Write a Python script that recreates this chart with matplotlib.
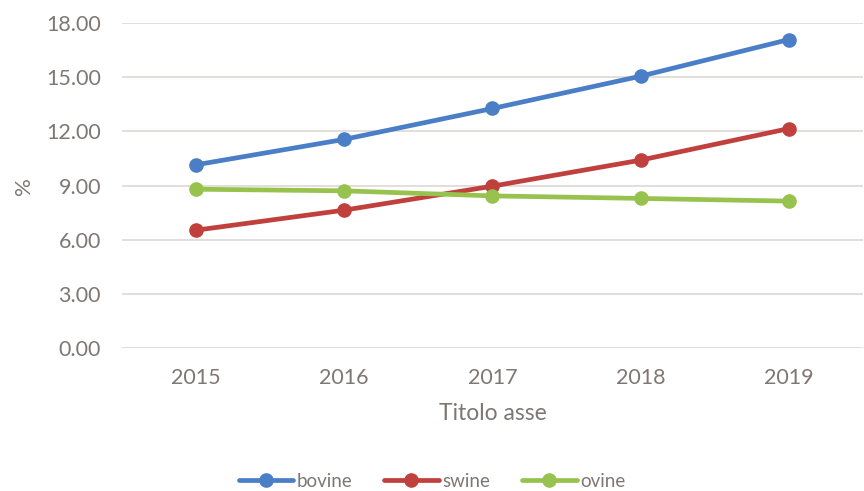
import numpy as np
import matplotlib.pyplot as plt
import matplotlib

matplotlib.rcParams['font.family'] = ['Lato', 'DejaVu Sans']
matplotlib.rcParams['font.size'] = 13

years = ["2015", "2016", "2017", "2018", "2019"]
bovine = [10.15, 11.56, 13.27, 15.06, 17.09]
swine = [6.53, 7.64, 8.97, 10.41, 12.16]
ovine = [8.80, 8.71, 8.43, 8.29, 8.14]

series = [("bovine", bovine, "#4a7ec6"),
          ("swine", swine, "#c0403d"),
          ("ovine", ovine, "#98c24e")]

text_col = "#7f7773"

fig = plt.figure(figsize=(8.64, 4.91), dpi=100)
ax = fig.add_axes([0.141, 0.291, 0.858, 0.662])

x = np.arange(len(years))
for name, vals, col in series:
    ax.plot(x, vals, color=col, lw=3.4, marker="o", ms=9.5, label=name,
            solid_capstyle="round")

ax.set_xlim(-0.5, len(years) - 0.5)
ax.set_ylim(0, 18)
ax.set_yticks(np.arange(0, 18.1, 3))
ax.set_yticklabels(["%.2f" % v for v in np.arange(0, 18.1, 3)])
ax.set_xticks(x)
ax.set_xticklabels(years)

ax.grid(axis="y", color="#dcd8d6", lw=1.2)
ax.set_axisbelow(True)
for s in ax.spines.values():
    s.set_visible(False)
ax.tick_params(length=0, colors=text_col, labelsize=15.5)
ax.tick_params(axis="y", pad=15)
ax.tick_params(axis="x", pad=14)

ax.set_xlabel("Titolo asse", color=text_col, fontsize=16.5)
ax.xaxis.set_label_coords(0.5, -0.17)
ax.set_ylabel("%", color=text_col, fontsize=16)
ax.yaxis.set_label_coords(-0.118, 0.5)

leg = fig.legend(loc="center", bbox_to_anchor=(0.5, 0.02), ncol=3, frameon=False,
                 handlelength=2.9, handletextpad=0.2, columnspacing=1.7,
                 fontsize=13.5)
for t in leg.get_texts():
    t.set_color(text_col)

fig.savefig("out.png", dpi=100)
